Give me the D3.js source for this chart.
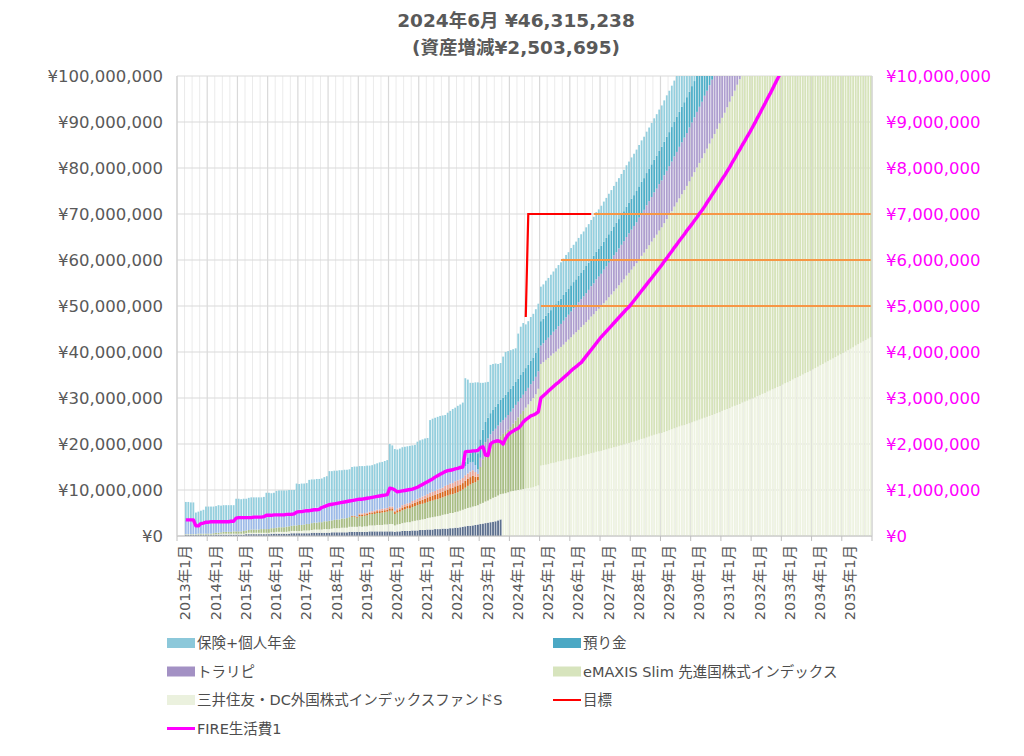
<!DOCTYPE html>
<html><head><meta charset="utf-8">
<script src="https://cdn.jsdelivr.net/npm/d3@7"></script>
<style>
body{margin:0;background:#fff;}
text{font-family:"DejaVu Sans","Noto Sans CJK JP",sans-serif;}
</style></head><body>
<svg id="chart" width="1024" height="756"></svg>
<script>
// ---------------- DATA ----------------
const N = 276;              // monthly categories 2013-01 .. 2035-12
const startYear = 2013;
const months = d3.range(N).map(i => `${startYear + Math.floor(i / 12)}年${i % 12 + 1}月`);
const yearTickIdx = d3.range(0, N, 12);
const leftTicks = d3.range(0, 100000001, 10000000);
const rightTicks = d3.range(0, 10000001, 1000000);
const titleLines = ["2024年6月 ¥46,315,238", "(資産増減¥2,503,695)"];

const UNIT = 1e5;   // bar values in units of 100,000 yen
const MUNIT = 1e4;  // FIRE line in units of 10,000 yen

// stacked series, bottom -> top (values start at index `start`)
const navyStart = 3;
const navy = [2,2,2,2,2,2,2,2,2,
 2,2,2,3,3,3,3,3,3,3,3,3, 3,3,3,4,4,4,4,4,4,4,4,4, 4,5,5,5,5,5,5,5,5,6,6,6,
 6,6,6,6,6,7,7,7,7,7,7,7, 7,8,8,8,8,8,8,8,9,9,9,9, 9,9,9,9,10,10,10,10,10,10,10,10,
 10,10,9,10,10,11,11,11,11,12,12,12, 13,13,13,14,14,14,15,15,15,16,16,16,
 17,17,18,18,19,20,21,22,22,23,24,25, 26,27,28,29,30,31,32,34,36];

const paleStart = 3;
const pale = [1,1,1,1,1,1,1,1,1,
 1,1,1,1,1,2,2,2,2,2,2,2, 2,2,2,2,3,3,3,3,3,3,3,3, 3,3,3,4,4,4,4,4,5,5,5,5,
 5,5,6,6,6,6,7,7,7,7,8,8, 8,8,9,9,9,10,10,10,11,11,11,11, 12,11,12,12,13,13,13,14,14,14,15,15,
 16,16,14,15,16,17,18,19,19,20,21,22, 22,23,24,25,26,27,27,28,29,30,31,32,
 33,33,34,35,36,37,38,39,40,41,41,42, 44,45,47,48,50,52,53,54,55,92,93,95,
 97,98,99,100,101,102,103,104,105,106,108,110,
 153,154,155,156,158,159,160,162,163,164,166,167,
 168,170,171,172,174,175,177,178,180,181,183,184,
 185,187,188,190,191,193,194,196,197,199,201,202,
 204,205,207,209,211,212,214,216,218,220,221,223,
 224,226,228,230,232,234,236,238,240,241,243,245,
 247,249,251,253,255,257,259,261,263,265,267,269,
 272,274,276,278,281,283,285,287,290,292,294,297,
 299,301,304,306,309,311,314,316,319,321,324,326,
 329,332,334,337,340,343,345,348,351,354,356,359,
 362,365,368,371,374,377,380,383,386,389,392,395,
 398,401,404,407,410,414,417,420,423,426,429,432];

const emaxisStart = 3;
const emaxis = [1,1,1,1,1,2,2,2,2,
 2,2,3,3,3,3,4,4,4,4,5,5, 5,5,6,6,6,7,7,7,7,8,8,8, 8,9,9,9,10,10,10,11,11,11,12,12,
 13,13,13,14,14,15,15,15,16,16,17,17, 18,18,18,19,19,20,20,21,21,22,22,20,
 22,23,23,24,24,25,25,26,26,27,27,28, 29,29,25,26,27,28,29,30,30,31,32,33,
 34,34,35,35,36,36,37,37,38,38,39,40, 40,41,41,42,43,44,46,48,50,51,52,54,
 80,95,105,110,115,118,120,123,126,130,133,136,
 140,146,152,158,164,170,176,182,188,194,200,210,
 221,224,228,231,234,238,241,245,248,252,256,260,
 264,268,272,276,280,284,288,292,297,301,306,310,
 314,319,324,329,334,339,344,349,354,359,365,370,
 375,381,386,392,398,404,410,416,422,428,434,441,
 447,454,461,468,474,482,489,496,503,511,518,526,
 534,542,550,558,566,575,583,592,601,609,618,628,
 637,646,656,666,675,685,696,706,716,727,738,749,
 759,771,782,794,806,818,830,842,855,867,880,893,
 906,919,933,947,961,975,990,1004,1019,1035,1050,1066,
 1080,1096,1113,1129,1146,1163,1181,1198,1216,1234,1253,1271,
 1288,1307,1327,1347,1367,1387,1408,1429,1450,1472,1494,1516];

const orangeStart = 69;
const orange = [2,2,2,
 3,3,3,3,3,3,4,4,4,4,4,4, 5,5,4,5,5,6,6,6,7,7,7,8,
 8,9,9,10,10,11,11,12,12,12,13,13, 14,14,15,15,14,14,15,15,16,16,12,8];

const salmonStart = 72;
const salmon = [3,3,3,3,3,3,3,3,4,4,4,4, 4,4,3,4,4,5,5,5,5,6,6,6,
 6,7,7,7,8,8,8,9,9,9,10,10, 10,10,11,11,11,11,12,12,12,12,10,6];

const cornStart = 3;
const corn = [31,31,31,30, 18,18,22,23,
 25,25,25,25,25,25,24,24,24,24,24,24, 31,31,31,31,31,30,30,30,30,30,30,30,
 33,32,32,32,32,31,31,31,31,31,31,31, 33,33,33,33,33,33,33,33,33,33,
 36,37,38,39,39, 38,38,38,38,38,38,38,38,38,38, 31,31,31,31,31,31,31,31,31,31,31,31,
 40,39,37, 36,35,34,33,33,32,31,30,30, 26,27,27,28,28,28,29,29,29,29,29,29,
 29,28,28,27,26,24, 20,20,20,18,15,10];

const toraripiStart = 120;
const toraripi = [20,22,24,25,26,27,28,29,30,30,31,32,
 33,33,34,34,35,35,36,36,37,37,38,38,
 40,41,43,44,45,47,48,49,50,52,53,54, 56,57,58,60,61,62,63,65,66,67,69,70,
 71,73,74,75,76,78,79,80,82,83,84,86, 87,88,89,91,92,93,95,96,97,99,100,101,
 102,104,105,106,108,109,110,112,113,114,115,117, 118,119,121,122,123,125,126,127,128,130,131,132,
 134,135,136,138,139,140,141,143,144,145,147,148, 149,151,152,153,154,156,157,158,160,161,162,164,
 165,166,167,169,170,171,173,174,175,177,178,179, 180,182,183,184,186,187,188,190,191,192,193,195,
 196,197,199,200,201,203,204,205,206,208,209,210];

const azukariStart = 114;
const azukari = [10,15,20,25,30,35,
 40,42,44,45,46,47,48,48,49,49,50,50, 50,50,50,50,50,50,50,50,51,51,52,52,
 53,53,53,54,54,54,55,55,55,56,56,56, 57,57,57,58,58,58,59,59,59,60,60,60,
 61,61,62,62,63,63,64,64,65,65,66,66, 67,67,68,68,69,69,70,70,71,71,72,72,
 73,73,74,74,75,75,76,76,77,77,78,78, 79,79,80,80,81,81,82,82,83,83,84,84,
 85,85,86,86,87,87,88,88,89,89,90,90, 91,91,92,92,93,93,94,94,95,95,96,96,
 97,97,98,98,99,99,100,100,101,101,102,102, 103,103,104,104,105,105,106,106,107,107,108,108,
 109,109,110,110,111,111,112,112,113,113,114,114];

const hokenStart = 3;
const hoken = [39,39,38,39,29,30,28,29,
 34,34,34,33,33,35,34,34,34,34,34,33, 40,40,39,39,38,40,40,40,40,40,39,40,
 46,47,44,45,48,49,49,49,48,48,47,46, 58,56,57,56,56,63,62,61,62,61,59,59,
 60,69,68,69,68,69,67,68,67,66,68,69, 71,72,72,71,71,69,69,70,70,71,71,72,
 73,96,94,97,92,93,92,92,91,92,90,90, 94,99,97,97,94,130,131,130,129,129,128,125,
 128,129,133,132,135,137,140,181,169,153,147,150, 154,123,102,86,78,105,99,94,86,80,89,93,
 89,84,79,73,98,105,106, 95,95,95,95,95,95,
 75,75,76,76,77,77,78,78,79,79,80,80, 81,81,82,82,83,83,84,84,85,85,86,86,
 87,87,87,88,88,88,89,89,89,90,90,90,
 90,90,90,90,90,90,90,90,90,90,90,90, 90,90,90,90,90,90,90,90,90,90,90,90,
 90,90,90,90,90,90,90,90,90,90,90,90, 90,90,90,90,90,90,90,90,90,90,90,90,
 90,90,90,90,90,90,90,90,90,90,90,90, 90,90,90,90,90,90,90,90,90,90,90,90,
 90,90,90,90,90,90,90,90,90,90,90,90, 90,90,90,90,90,90,90,90,90,90,90,90];

// 目標 (red) in 100,000 yen units
const goalStart = 138;
const goal = [476,700,700,700,700,700,700,700,700,700,700,700,700,700,700,700,700,700,700,700,700,700,700,700,700,700,700];
// orange target levels (yen) and their first month index
const targetLevels = [50000000, 60000000, 70000000];
const targetStarts = [144, 152, 165];

// FIRE生活費1 (right axis) in 10,000 yen units
const fireStart = 3;
const fire = [35,35,35,35, 22,22,27,28,
 30,30,31,31,31,31,31,31,31,31,32,32, 39,40,40,40,40,40,40,41,41,41,41,42,
 45,45,45,46,46,46,46,46,47,47,47,48, 52,53,53,54,55,55,56,57,57,58,
 62,64,66,68,69, 70,71,72,73,74,75,76,77,78,79, 80,80,81,82,83,84,85,86,87,88,89,90,
 104,103,100, 96,97,98,99,100,101,102,104,106,
 109,112,115,118,121,124,128,131,134,137,140,142, 143,144,146,147,149,150,
 183,184,184,185,185,186,192,194, 176,175, 200,204,206,207,205,200,212,220,
 225,228,232,234,240,248, 253,257,261,263,266,270,
 300,305,310,315,320,325,330,334,339,344,349,354,359,364,368,373,
 377,384,391,398,405,412,419,426,
 433,439,445,451,457,463,469,475,481,487,493,
 498,505,512,519,526,533,540,547,554,561,568,575,582,589,
 597,604,612,619,627,634,642,649,
 656,664,671,678,686,693,701,708,
 716,725,733,742,750,759,767,776,784,793,
 802,812,821,831,840,850,859,869,878,
 888,898,909,919,930,940,951,961,972,983,994,
 1005,1016,1027,1039,1050,1062,1074,1086,1098,1110,1122,1134,1147,1159,1172,1185,1198,1211,1224,1237,
 1251,1264,1278,1292,1306,1320,1334,1349,1363,1378,1393,1408,1423,1438,1454,1469,1485];

const lastActual = 137; // 2024-06

// ---------------- CHART ----------------
const series = [
  {key:'navy',  start:navyStart,  values:navy,  color:'#5B6F8E'},
  {key:'pale',  start:paleStart,  values:pale,  color:'#EEF3E1'},
  {key:'emaxis',start:emaxisStart,values:emaxis,color:'#D6E3BA', histColor:'#A9BE85'},
  {key:'orange',start:orangeStart,values:orange,color:'#D9691F'},
  {key:'salmon',start:salmonStart,values:salmon,color:'#E9A396'},
  {key:'corn',  start:cornStart,  values:corn,  color:'#9DBBE8'},
  {key:'tora',  start:toraripiStart, values:toraripi, color:'#AE9FCF'},
  {key:'azu',   start:azukariStart,  values:azukari,  color:'#4DAEC8'},
  {key:'hoken', start:hokenStart, values:hoken, color:'#94CFDE'}
];
const valAt = (s, i) => { const k = i - s.start; return (k >= 0 && k < s.values.length) ? s.values[k] * UNIT : 0; };
const rows = d3.range(N).map(i => { const r = {i}; series.forEach(s => r[s.key] = valAt(s, i)); return r; });
const stacked = d3.stack().keys(series.map(s => s.key))(rows);

const svg = d3.select('#chart');
svg.append('rect').attr('width',1024).attr('height',756).attr('fill','#fff');

const L = 177, R = 872, T = 76, B = 536;
const x = d3.scaleBand().domain(d3.range(N)).range([L, R]).paddingInner(0.28).paddingOuter(0.14);
const step = x.step();
const y = d3.scaleLinear().domain([0, 1e8]).range([B, T]);
const y2 = d3.scaleLinear().domain([0, 1e7]).range([B, T]);
const cx = i => x(i) + x.bandwidth() / 2;

svg.append('defs').append('clipPath').attr('id','plotclip')
  .append('rect').attr('x',L).attr('y',T).attr('width',R-L).attr('height',B-T);

// gridlines
const grid = svg.append('g');
grid.selectAll('line.minor').data(d3.range(3, N, 3).filter(k => k % 12 !== 0)).join('line')
  .attr('x1', k => L + k * step).attr('x2', k => L + k * step).attr('y1', T).attr('y2', B)
  .attr('stroke','#EBEBEB').attr('stroke-width',1);
grid.selectAll('line.major').data(d3.range(0, N + 1, 12)).join('line')
  .attr('x1', k => L + k * step).attr('x2', k => L + k * step).attr('y1', T).attr('y2', B)
  .attr('stroke','#D9D9D9').attr('stroke-width',1.2);
grid.selectAll('line.h').data(leftTicks).join('line')
  .attr('x1', L).attr('x2', R).attr('y1', d => y(d)).attr('y2', d => y(d))
  .attr('stroke','#D9D9D9').attr('stroke-width',1.2);

// bars
const barsG = svg.append('g').attr('clip-path','url(#plotclip)');
stacked.forEach((layer, li) => {
  const s = series[li];
  barsG.append('g').selectAll('rect').data(layer.filter(d => d[1] - d[0] > 0)).join('rect')
    .attr('x', d => x(d.data.i)).attr('width', x.bandwidth())
    .attr('y', d => y(d[1])).attr('height', d => y(d[0]) - y(d[1]))
    .attr('fill', d => (s.histColor && d.data.i <= lastActual) ? s.histColor : s.color);
});

// axis lines
svg.append('line').attr('x1',L).attr('x2',R).attr('y1',B).attr('y2',B).attr('stroke','#BFBFBF');
svg.append('line').attr('x1',L).attr('x2',L).attr('y1',T).attr('y2',B).attr('stroke','#D0D0D0');
svg.append('line').attr('x1',R).attr('x2',R).attr('y1',T).attr('y2',B).attr('stroke','#D0D0D0');
svg.selectAll('line.tick').data(d3.range(0, N + 1, 12)).join('line')
  .attr('x1', k => L + k * step).attr('x2', k => L + k * step).attr('y1', B).attr('y2', B + 5)
  .attr('stroke','#BFBFBF');

// lines
const linesG = svg.append('g').attr('clip-path','url(#plotclip)');
targetLevels.forEach((lv, j) => {
  const pts = d3.range(targetStarts[j], N).map(i => [cx(i), y(lv)]);
  linesG.append('path').attr('d', d3.line()(pts)).attr('fill','none')
    .attr('stroke','#F79646').attr('stroke-width',2.2);
});
linesG.append('path')
  .attr('d', d3.line().x((d, k) => cx(goalStart + k)).y(d => y(d * UNIT))(goal))
  .attr('fill','none').attr('stroke','#FF0000').attr('stroke-width',2.2);
linesG.append('path')
  .attr('d', d3.line().x((d, k) => cx(fireStart + k)).y(d => y2(d * MUNIT))(fire))
  .attr('fill','none').attr('stroke','#FF00FF').attr('stroke-width',3.4).attr('stroke-linejoin','round');

// axes labels
const fmt = d3.format(',');
svg.append('g').selectAll('text').data(leftTicks).join('text')
  .attr('x', 163).attr('y', d => y(d)).attr('dy','0.36em').attr('text-anchor','end')
  .attr('font-size',16.5).attr('fill','#595959').text(d => '¥' + fmt(d));
svg.append('g').selectAll('text').data(rightTicks).join('text')
  .attr('x', 886).attr('y', d => y2(d)).attr('dy','0.36em').attr('text-anchor','start')
  .attr('font-size',16.5).attr('fill','#FF00FF').text(d => '¥' + fmt(d));
svg.append('g').selectAll('text').data(yearTickIdx).join('text')
  .attr('transform', i => `translate(${cx(i) + 7},545) rotate(-90)`)
  .attr('dy','0.36em').attr('text-anchor','end')
  .attr('font-size',14.5).attr('fill','#595959').text(i => months[i]);

// title
svg.append('g').selectAll('text').data(titleLines).join('text')
  .attr('x', 516).attr('y', (d, k) => 27 + k * 27).attr('text-anchor','middle')
  .attr('font-size',18.5).attr('font-weight','bold').attr('fill','#595959').text(d => d);

// legend
const legend = [
  {name:'保険+個人年金', color:'#8CC8DA', type:'box', col:0, row:0},
  {name:'預り金', color:'#4BA8C4', type:'box', col:1, row:0},
  {name:'トラリピ', color:'#A391C4', type:'box', col:0, row:1},
  {name:'eMAXIS Slim 先進国株式インデックス', color:'#D7E4BD', type:'box', col:1, row:1},
  {name:'三井住友・DC外国株式インデックスファンドS', color:'#EBF1DE', type:'box', col:0, row:2},
  {name:'目標', color:'#FF0000', type:'line', col:1, row:2},
  {name:'FIRE生活費1', color:'#FF00FF', type:'line', col:0, row:3}
];
const lg = svg.append('g');
legend.forEach(it => {
  const lx = it.col ? 553 : 167, ly = 643 + it.row * 28.5;
  if (it.type === 'box') lg.append('rect').attr('x', lx).attr('y', ly - 5).attr('width', 28).attr('height', 10).attr('fill', it.color);
  else lg.append('line').attr('x1', lx).attr('x2', lx + 28).attr('y1', ly).attr('y2', ly).attr('stroke', it.color).attr('stroke-width', it.name === '目標' ? 2 : 3);
  lg.append('text').attr('x', lx + 30).attr('y', ly).attr('dy','0.36em').attr('font-size',14.5)
    .attr('fill','#4D4D4D').text(it.name);
});
</script></body></html>
